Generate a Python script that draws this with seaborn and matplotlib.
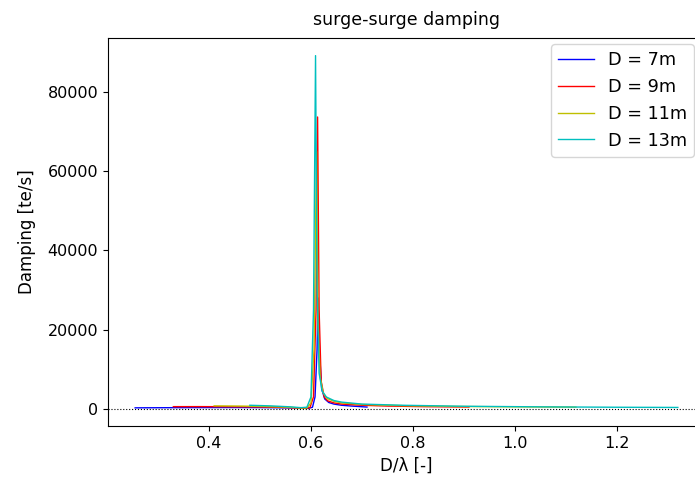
import matplotlib
matplotlib.use("Agg")
import matplotlib.pyplot as plt
import seaborn as sns
import pandas as pd

labels = ["D = 7m", "D = 9m", "D = 11m", "D = 13m"]
colors = ["b", "r", "y", "c"]

x7 = [0.255, 0.30, 0.35, 0.40, 0.45, 0.50, 0.55, 0.58, 0.595, 0.603, 0.608,
      0.612, 0.614, 0.617, 0.621, 0.627, 0.635, 0.645, 0.66, 0.68, 0.71]
y7 = [250, 280, 300, 320, 330, 320, 250, 150, 120, 400, 3000,
      15000, 28000, 14000, 5000, 2500, 1600, 1200, 900, 700, 450]

x9 = [0.33, 0.38, 0.43, 0.48, 0.53, 0.56, 0.585, 0.598, 0.605, 0.610, 0.613,
      0.616, 0.620, 0.626, 0.633, 0.645, 0.66, 0.70, 0.75, 0.82, 0.91]
y9 = [550, 560, 540, 500, 400, 280, 150, 300, 3000, 25000, 73700,
      25000, 7000, 3000, 2000, 1500, 1200, 900, 700, 550, 450]

x11 = [0.41, 0.46, 0.51, 0.55, 0.575, 0.592, 0.600, 0.606, 0.611, 0.614,
       0.618, 0.624, 0.632, 0.645, 0.66, 0.70, 0.78, 0.88, 1.0, 1.12]
y11 = [750, 700, 600, 450, 250, 200, 1500, 15000, 65000, 22000,
       8000, 4000, 2600, 1900, 1500, 1100, 800, 600, 500, 420]

x13 = [0.48, 0.52, 0.56, 0.58, 0.592, 0.600, 0.605, 0.609, 0.612, 0.616,
       0.622, 0.630, 0.645, 0.66, 0.70, 0.78, 0.90, 1.05, 1.2, 1.32]
y13 = [900, 750, 500, 300, 400, 3000, 25000, 89200, 30000, 9000,
       4500, 3000, 2100, 1700, 1200, 900, 650, 500, 400, 350]

xs = [x7, x9, x11, x13]
ys = [y7, y9, y11, y13]

rows = []
for lab, xx, yy in zip(labels, xs, ys):
    for a, b in zip(xx, yy):
        rows.append({"x": a, "y": b, "series": lab})
df = pd.DataFrame(rows)

plt.rcParams["font.family"] = ["DejaVu Sans"]
fig = plt.figure(figsize=(6.95, 4.82), dpi=100)
ax = fig.add_axes([0.1554, 0.1162, 0.859, 0.805])

sns.lineplot(data=df, x="x", y="y", hue="series", hue_order=labels,
             palette=dict(zip(labels, colors)), linewidth=1.0, ax=ax,
             sort=False, estimator=None)
ax.axhline(0, color="k", ls=":", lw=0.8)

ax.set_title("surge-surge damping", fontsize=12.5, pad=9)
ax.set_xlabel("D/λ [-]", fontsize=12)
ax.set_ylabel("Damping [te/s]", fontsize=12, labelpad=8)
ax.tick_params(labelsize=11.5)
ax.set_xticks([0.4, 0.6, 0.8, 1.0, 1.2])
ax.set_yticks([0, 20000, 40000, 60000, 80000])
ax.legend(loc="upper right", fontsize=12.7, bbox_to_anchor=(0.9986, 0.9087),
          bbox_transform=fig.transFigure, borderaxespad=0)

fig.savefig("out.png", dpi=100)
